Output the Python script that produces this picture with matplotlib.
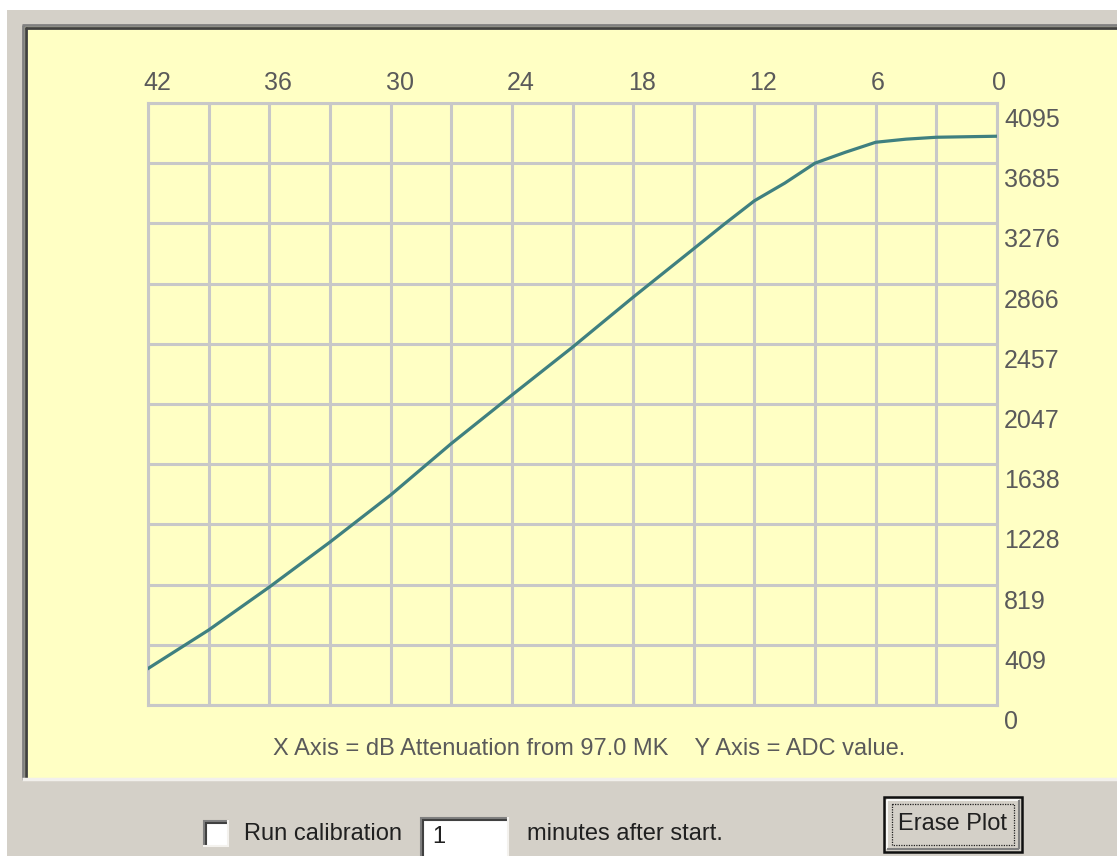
import numpy as np
import matplotlib
matplotlib.use("Agg")
import matplotlib.pyplot as plt
from matplotlib import transforms
from matplotlib.patches import Rectangle

plt.rcParams['font.family'] = ['Liberation Sans', 'DejaVu Sans']

# calibration trace: attenuation in dB vs. ADC reading
db = [42, 39, 36, 33, 30, 27, 24, 21, 18, 15, 13.5, 12, 10.5, 9, 7.5, 6, 4.5, 3, 0]
adc = [248, 510, 802, 1108, 1428, 1778, 2108, 2434, 2774, 3104, 3270,
       3430, 3550, 3686, 3760, 3828, 3849, 3862, 3869]

x_labels = [42, 36, 30, 24, 18, 12, 6, 0]
y_labels = ['0', '409', '819', '1228', '1638', '2047', '2457', '2866', '3276', '3685', '4095']
y_ticks = np.linspace(0, 4095, 11)
x_grid = np.arange(0, 43, 3)

caption = "X Axis = dB Attenuation from 97.0 MK    Y Axis = ADC value."

W, H = 1117, 856
GREY = '#D4D0C8'
YELLOW = '#FFFFC4'
GRID = '#C8C8C8'
TEXT = '#5A5A5A'

fig = plt.figure(figsize=(W / 100, H / 100), dpi=100, facecolor='white')

# dialog chrome drawn in pixel coordinates (y down)
bg = fig.add_axes([0, 0, 1, 1])
bg.set_xlim(0, W)
bg.set_ylim(H, 0)
bg.axis('off')


def rect(x0, y0, x1, y1, **kw):
    bg.add_patch(Rectangle((x0, y0), x1 - x0, y1 - y0, **kw))


def hline(x0, x1, y, color, lw):
    bg.plot([x0, x1], [y, y], color=color, lw=lw, solid_capstyle='butt')


def vline(x, y0, y1, color, lw):
    bg.plot([x, x], [y0, y1], color=color, lw=lw, solid_capstyle='butt')


def sunken(x0, y0, x1, y1):
    rect(x0, y0, x1, y1, facecolor='white', edgecolor='none')
    hline(x0, x1, y0 + 1, '#808080', 1.5)
    vline(x0 + 1, y0, y1, '#808080', 1.5)
    hline(x0 + 2, x1 - 2, y0 + 3, '#404040', 1.5)
    vline(x0 + 3, y0 + 2, y1 - 2, '#404040', 1.5)
    hline(x0, x1, y1 - 1, '#F4F2EE', 1.5)
    vline(x1 - 1, y0, y1, '#F4F2EE', 1.5)


rect(7, 10, W, H, facecolor=GREY, edgecolor='none')

# sunken yellow plot panel
rect(24, 25, W, 780, facecolor=YELLOW, edgecolor='none')
hline(22, W, 25, '#808080', 2)
vline(23, 25, 780, '#808080', 2)
hline(25, W, 27.5, '#404040', 2)
vline(26, 27, 778, '#404040', 2)
hline(22, W, 779, '#F2F0EC', 2.5)

bg.text(589, 749, caption, ha='center', va='center', fontsize=17, color=TEXT)

# checkbox, edit field and default button
sunken(203, 820, 229, 847)
bg.text(244, 834, "Run calibration", ha='left', va='center', fontsize=17, color='#202020')
sunken(420, 817, 509, 862)
bg.text(432, 837, "1", ha='left', va='center', fontsize=17, color='#202020')
bg.text(527, 834, "minutes after start.", ha='left', va='center', fontsize=17, color='#202020')

rect(884, 797, 1022, 852, facecolor=GREY, edgecolor='#101010', lw=1.8)
hline(887, 1019, 800, 'white', 1.2)
vline(887, 800, 849, 'white', 1.2)
hline(887, 1019, 848.5, '#808080', 1.5)
vline(1018.5, 800, 849, '#808080', 1.5)
rect(892, 804, 1014, 845, facecolor='none', edgecolor='#202020', lw=0.9, ls=(0, (1, 1)))
bg.text(953, 824, "Erase Plot", ha='center', va='center', fontsize=17, color='#202020')

# plot area
ax = fig.add_axes([148 / W, (H - 705) / H, (997 - 148) / W, (705 - 103) / H])
ax.set_facecolor('none')
ax.plot(db, adc, color='#3F8080', lw=2.3, solid_joinstyle='round', zorder=3)
ax.set_xlim(42, 0)
ax.set_ylim(0, 4095)
ax.set_xticks(x_grid)
ax.set_yticks(y_ticks)
ax.tick_params(length=0, labelbottom=False, labelleft=False)
ax.grid(color=GRID, lw=2.2)
for s in ax.spines.values():
    s.set_color(GRID)
    s.set_linewidth(2.2)

xtrans = transforms.blended_transform_factory(ax.transData, ax.transAxes)
xtrans = transforms.offset_copy(xtrans, fig=fig, x=-5, y=13, units='dots')
for v in x_labels:
    ax.text(v, 1, str(v), transform=xtrans, ha='left', va='baseline',
            fontsize=18, color=TEXT, clip_on=False)

ytrans = transforms.blended_transform_factory(ax.transAxes, ax.transData)
ytrans = transforms.offset_copy(ytrans, fig=fig, x=7, y=-24, units='dots')
for v, lab in zip(y_ticks, y_labels):
    ax.text(1, v, lab, transform=ytrans, ha='left', va='baseline',
            fontsize=18, color=TEXT, clip_on=False)

fig.savefig('out.png', dpi=100, facecolor=fig.get_facecolor())
